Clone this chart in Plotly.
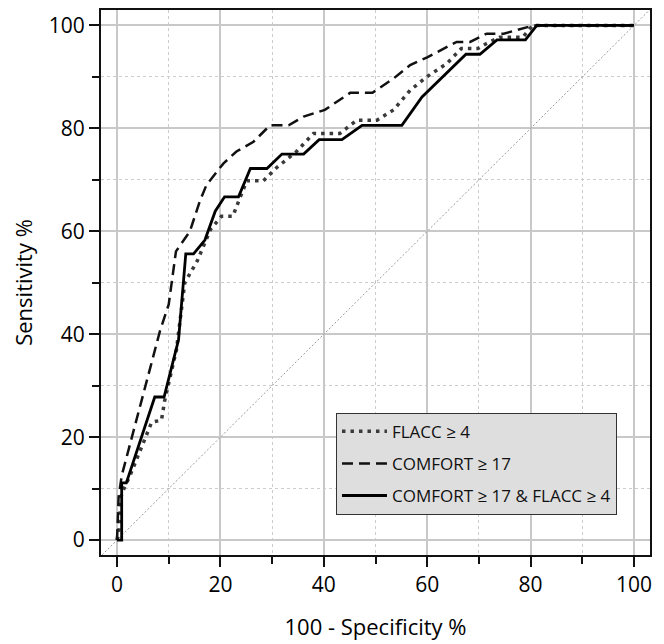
import plotly.graph_objects as go

# ROC data (100 - specificity %, sensitivity %)
flacc_x = [0, 0.5, 0.7, 1.2, 2.5, 6.7, 8.6, 9.2, 11.5, 13.1, 15.5, 18.1, 20.2, 22.4, 23.5, 25.1, 28.3, 30.8,
           34.7, 38.0, 43.1, 46.4, 50.3, 53.5, 56.7, 59.9, 63.8, 66.6, 69.8, 71.5, 74.0, 78.5, 80.4, 100]
flacc_y = [0, 2.8, 8.3, 9.7, 12.5, 22.9, 23.3, 27.0, 37.0, 50.0, 54.2, 60.4, 62.9, 62.9, 65.8, 69.8, 69.8, 72.3,
           75.5, 79.0, 79.0, 81.6, 81.6, 83.6, 87.4, 90.0, 92.6, 95.5, 95.5, 96.5, 97.7, 97.7, 100, 100]

comfort_x = [0, 0.3, 0.9, 8.3, 10.0, 11.4, 14.1, 16.0, 17.3, 20.6, 23.1, 26.4, 29.6, 33.2, 36.1, 40.2, 45.1,
             49.4, 53.5, 56.7, 60.0, 65.7, 68.3, 71.5, 74.8, 80.6, 100]
comfort_y = [0, 8.3, 12.5, 40.6, 45.8, 56.1, 60.0, 65.8, 69.0, 73.2, 75.5, 77.4, 80.6, 80.6, 82.3, 83.6, 86.9,
             86.9, 89.7, 92.3, 93.8, 96.8, 96.8, 98.4, 98.4, 100, 100]

both_x = [0, 0.9, 0.9, 1.8, 7.3, 9.1, 11.9, 13.3, 14.8, 17.0, 19.0, 20.8, 23.5, 25.8, 29.0, 31.9, 36.1, 39.1,
          43.5, 47.4, 55.1, 59.0, 67.5, 70.2, 73.5, 79.0, 81.2, 100]
both_y = [0, 0, 11.1, 11.1, 27.8, 27.8, 38.9, 55.6, 55.6, 58.3, 63.9, 66.7, 66.7, 72.2, 72.2, 75.0, 75.0, 77.8,
          77.8, 80.6, 80.6, 86.1, 94.4, 94.4, 97.2, 97.2, 100, 100]

chance = [-10, 110]

series_names = ["FLACC \u2265 4", "COMFORT \u2265 17", "COMFORT \u2265 17 & FLACC \u2265 4"]
tick_vals = [0, 20, 40, 60, 80, 100]

FONT = "Open Sans"

fig = go.Figure()

fig.add_trace(go.Scatter(x=chance, y=chance, mode="lines", showlegend=False, hoverinfo="skip",
                         line=dict(color="#9a9a9a", width=1, dash="2px,2px")))

fig.add_trace(go.Scatter(x=flacc_x, y=flacc_y, mode="lines", name=series_names[0], legendgroup="a",
                         line=dict(color="#3a3a3a", width=3.5, dash="3.5px,5px")))
fig.add_trace(go.Scatter(x=comfort_x, y=comfort_y, mode="lines", name=series_names[1], legendgroup="b",
                         line=dict(color="#111111", width=2.5, dash="11px,6px")))
fig.add_trace(go.Scatter(x=both_x, y=both_y, mode="lines", name=series_names[2], legendgroup="c",
                         line=dict(color="#000000", width=2.8)))

axis_common = dict(
    tickvals=tick_vals,
    showline=True, linecolor="#111111", linewidth=2, mirror=True,
    ticks="outside", ticklen=10, tickwidth=2, tickcolor="#111111",
    showgrid=True, gridcolor="#c8c8c8", gridwidth=1.5,
    zeroline=False,
    tickfont=dict(family=FONT, size=21, color="#000000"),
    minor=dict(dtick=10, tick0=0, ticks="outside", ticklen=7, tickwidth=2, tickcolor="#111111",
               showgrid=True, gridcolor="#cccccc", gridwidth=1, griddash="dot"),
)

fig.update_xaxes(range=[-3.1, 103.1],
                 title=dict(text="100 - Specificity %", font=dict(family=FONT, size=22, color="#000000"),
                            standoff=22),
                 **axis_common)
fig.update_yaxes(range=[-2.9, 103.0],
                 title=dict(text="Sensitivity %", font=dict(family=FONT, size=22, color="#000000"),
                            standoff=18),
                 **axis_common)

# page body adds an 8px offset, so the figure is sized to fit the window after it
fig.update_layout(
    width=656, height=636,
    margin=dict(l=93, r=14, t=0, b=89),
    paper_bgcolor="white", plot_bgcolor="white",
    font=dict(family=FONT, color="#111111"),
    legend=dict(x=0.428, y=0.261, xanchor="left", yanchor="top",
                bgcolor="#dedede", bordercolor="#333333", borderwidth=1,
                font=dict(family=FONT, size=17, color="#111111"),
                itemwidth=45, tracegroupgap=7, traceorder="grouped"),
)

fig.write_html("out.html")
